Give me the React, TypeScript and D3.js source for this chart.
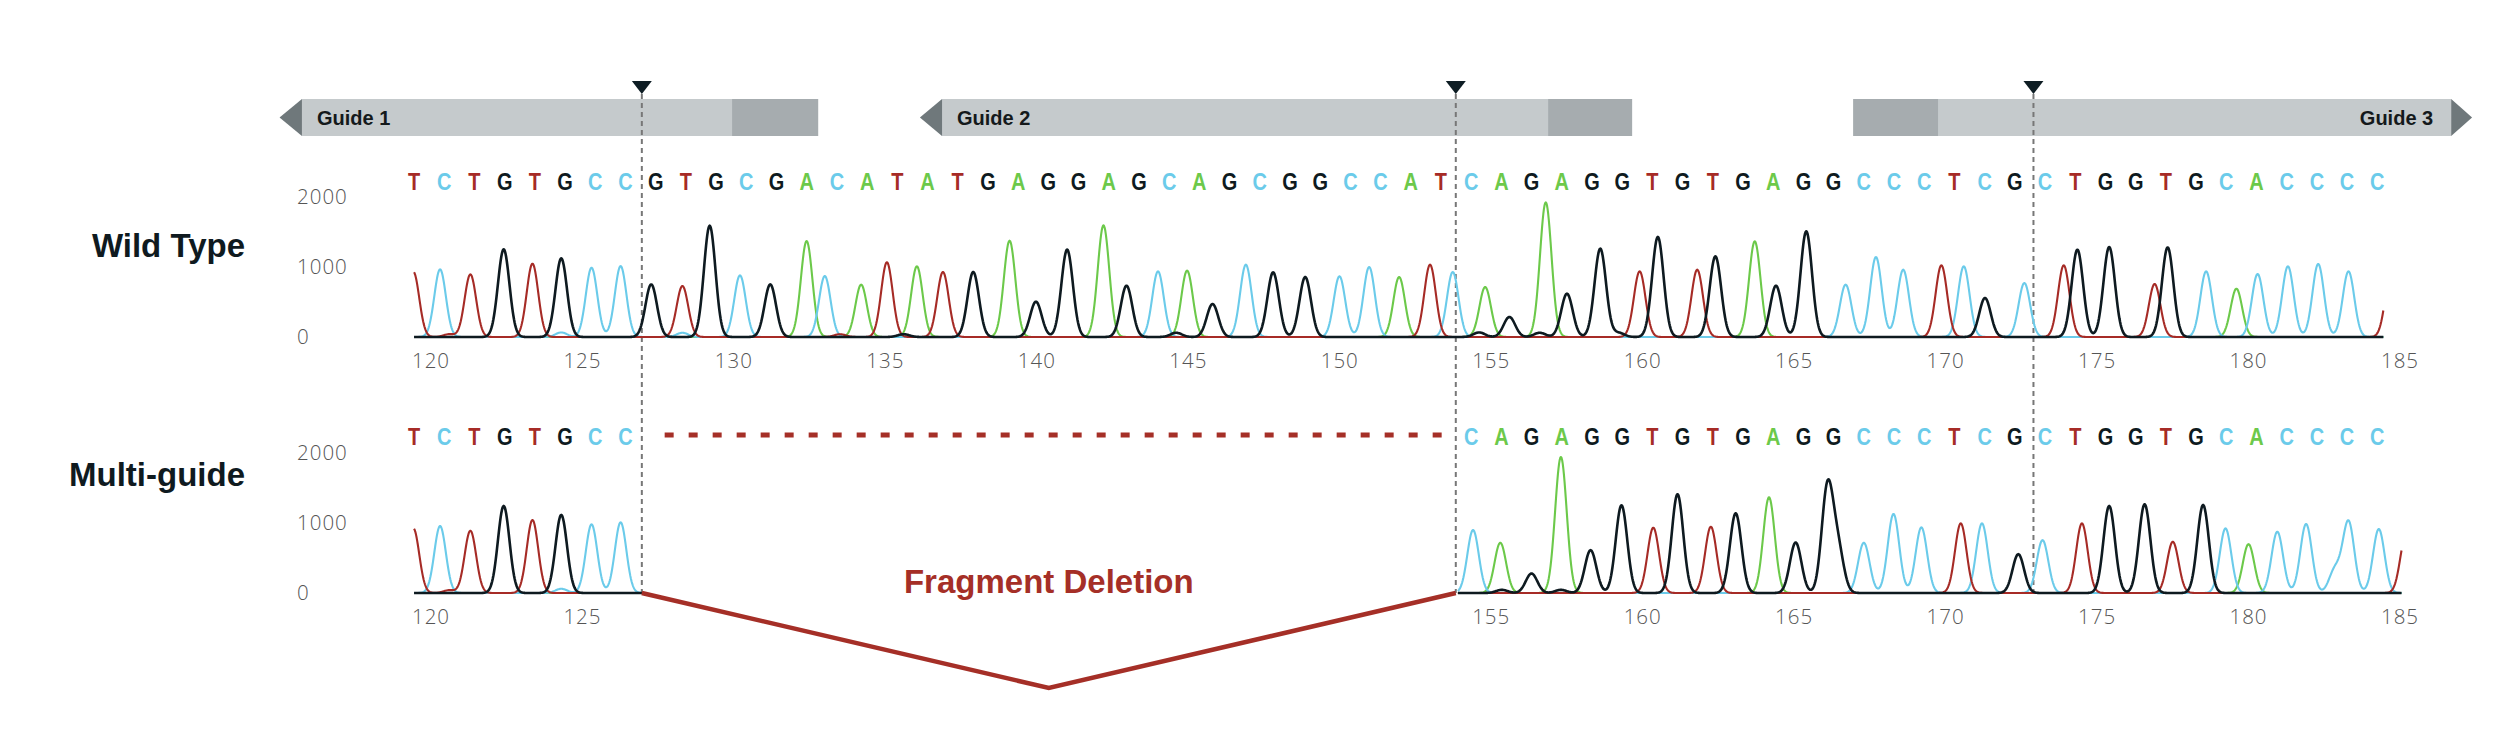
import React from 'react';
import * as d3 from 'd3';

const W = 2516;
const H = 752;

// Base calls (reference sequence read above the traces)
const sequence = 'TCTGTGCCGTGCGACATATGAGGAGCAGCGGCCATCAGAGGTGTGAGGCCCTCGCTGGTGCACCCC'.split('');
const seqRange = [119.44, 184.25];
const deletedFrom = 8; // first deleted base index (Multi-guide)
const deletedTo = 34; // last deleted base index

const wtTicks = [120, 125, 130, 135, 140, 145, 150, 155, 160, 165, 170, 175, 180, 185];
const mgTicks = [120, 125, 155, 160, 165, 170, 175, 180, 185];
const yTicks = [0, 1000, 2000];

const cutSites = [126.96, 153.83, 172.9];

const guideLabels = ['Guide 1', 'Guide 2', 'Guide 3'];
const guideTip = [115.0, 136.14, 187.38];
const guideStart = [115.74, 136.87, 166.95];
const guideEnd = [132.78, 159.65, 186.69];
const guidePamStart = [129.94, 156.88, 166.95];
const guidePamEnd = [132.78, 159.65, 169.75];
const guideDir = [-1, -1, 1];

// Wild type chromatogram peaks: [position, intensity]
const wtT = [[119.42, 930], [120.6, 40], [121.3, 895], [123.35, 1048], [128.3, 729], [133.5, 40], [135.05, 1067], [136.9, 929], [152.98, 1033], [159.9, 938], [161.8, 962], [169.86, 1024], [173.9, 1024], [176.9, 757], [184.7, 900]];
const wtC = [[120.3, 967], [124.3, 65], [125.3, 990], [126.26, 1014], [128.3, 60], [130.2, 881], [133.0, 871], [144.0, 938], [146.9, 1033], [149.99, 867], [150.97, 1000], [153.73, 929], [166.7, 748], [167.7, 1143], [168.6, 962], [170.6, 1010], [172.6, 771], [178.6, 938], [180.3, 900], [181.3, 1010], [182.3, 1043], [183.3, 938]];
const wtG = [[122.4, 1252], [124.3, 1124], [127.27, 752], [129.2, 1590], [131.2, 752], [135.6, 40], [137.9, 929], [139.97, 505], [141.0, 1248], [142.96, 733], [144.6, 60], [145.8, 471], [147.8, 924], [148.86, 857], [154.6, 65], [155.6, 286], [156.6, 60], [157.5, 619], [158.6, 1262], [159.2, 60], [160.5, 1429], [162.4, 1152], [164.4, 733], [165.4, 1510], [171.3, 557], [174.35, 1248], [175.4, 1286], [177.33, 1281]];
const wtA = [[132.4, 1371], [134.2, 748], [136.04, 1010], [139.1, 1376], [142.2, 1595], [144.96, 948], [151.96, 857], [154.8, 714], [156.8, 1924], [163.7, 1367], [179.6, 690]];

// Multi-guide chromatogram peaks
const mgT = [[119.42, 923], [120.6, 40], [121.3, 890], [123.35, 1043], [160.35, 933], [162.25, 947], [170.5, 995], [174.5, 995], [177.5, 732], [185.2, 830]];
const mgC = [[120.3, 957], [124.3, 60], [125.3, 981], [126.26, 1010], [154.4, 900], [167.3, 718], [168.28, 1129], [169.2, 938], [171.2, 995], [173.2, 756], [179.24, 923], [180.95, 876], [181.9, 986], [182.85, 330], [183.3, 1019], [184.3, 914]];
const mgG = [[122.4, 1244], [124.3, 1115], [155.35, 45], [156.33, 278], [157.3, 45], [158.28, 612], [159.3, 1254], [161.15, 1411], [163.07, 1139], [165.05, 722], [166.1, 1498], [166.45, 600], [172.4, 555], [175.4, 1244], [176.57, 1268], [178.5, 1258]];
const mgA = [[155.3, 718], [157.3, 1943], [164.17, 1368], [180.0, 698]];

const wtSegments = [[119.44, 184.45]];
const mgSegments = [[119.44, 126.96], [153.9, 185.05]];

const BASE_COLORS: Record<string, string> = {
  T: '#A62B26',
  C: '#6BCBEA',
  G: '#0E1A20',
  A: '#6CC94A',
};

const SIGMA = 0.19;

function intensityAt(peaks: number[][], u: number) {
  let s = 0;
  for (const [p, h] of peaks) {
    const d = (u - p) / SIGMA;
    if (Math.abs(d) < 6) s += h * Math.exp(-0.5 * d * d);
  }
  return s;
}

const axisFont = "'Open Sans', 'Noto Sans', sans-serif";
const boldFont = "'Liberation Sans', Arial, sans-serif";

export default function App() {
  const x = d3.scaleLinear().domain([120, 185]).range([431, 2400]);
  const seqX = d3
    .scalePoint<number>()
    .domain(sequence.map((_, i) => i))
    .range([x(seqRange[0]), x(seqRange[1])]);

  const panels = [
    {
      name: 'Wild Type',
      base: 337,
      labelY: 257,
      seqY: 189.5,
      peaks: { A: wtA, C: wtC, T: wtT, G: wtG } as Record<string, number[][]>,
      segments: wtSegments,
      ticks: wtTicks,
      showBase: (_i: number) => true,
    },
    {
      name: 'Multi-guide',
      base: 593,
      labelY: 486,
      seqY: 445,
      peaks: { A: mgA, C: mgC, T: mgT, G: mgG } as Record<string, number[][]>,
      segments: mgSegments,
      ticks: mgTicks,
      showBase: (i: number) => i < deletedFrom || i > deletedTo,
    },
  ];

  const drawOrder = ['A', 'C', 'T', 'G'];
  const barTop = 99;
  const barBot = 136;
  const barMid = (barTop + barBot) / 2;
  const mgBase = 593;
  const delStartX = x(cutSites[0]);
  const delEndX = x(cutSites[1]);
  const delMidX = (delStartX + delEndX) / 2;

  return (
    <svg
      width={W}
      height={H}
      viewBox={`0 0 ${W} ${H}`}
      style={{ position: 'absolute', left: 0, top: 0, background: '#ffffff' }}
    >
      {/* Guides */}
      {guideLabels.map((label, gi) => {
        const xs = x(guideStart[gi]);
        const xe = x(guideEnd[gi]);
        const xt = x(guideTip[gi]);
        const tipBase = guideDir[gi] < 0 ? xs : xe;
        return (
          <g key={label}>
            <rect x={xs} y={barTop} width={xe - xs} height={barBot - barTop} fill="#C5CACC" />
            <rect
              x={x(guidePamStart[gi])}
              y={barTop}
              width={x(guidePamEnd[gi]) - x(guidePamStart[gi])}
              height={barBot - barTop}
              fill="#A6ACAF"
            />
            <polygon points={`${tipBase},${barTop} ${xt},${barMid} ${tipBase},${barBot}`} fill="#6F787B" />
            <text
              x={guideDir[gi] < 0 ? xs + 15 : xe - 18}
              y={125}
              textAnchor={guideDir[gi] < 0 ? 'start' : 'end'}
              fontFamily={boldFont}
              fontWeight={700}
              fontSize={20}
              fill="#14191B"
            >
              {label}
            </text>
          </g>
        );
      })}

      {/* Cut sites */}
      {cutSites.map((c) => (
        <g key={c}>
          <line
            x1={x(c)}
            x2={x(c)}
            y1={94}
            y2={mgBase}
            stroke="#777"
            strokeWidth={2}
            strokeDasharray="5 4"
          />
          <polygon points={`${x(c) - 10},${81} ${x(c) + 10},${81} ${x(c)},${94}`} fill="#0E1D24" />
        </g>
      ))}

      {panels.map((panel) => {
        const y = d3.scaleLinear().domain([0, 2000]).range([panel.base, panel.base - 140]);
        const line = d3
          .line<[number, number]>()
          .x((d) => x(d[0]))
          .y((d) => y(d[1]));
        return (
          <g key={panel.name}>
            <text
              x={245}
              y={panel.labelY}
              textAnchor="end"
              fontFamily={boldFont}
              fontWeight={700}
              fontSize={33}
              fill="#0F1A1F"
            >
              {panel.name}
            </text>
            {yTicks.map((t) => (
              <text
                key={t}
                x={297}
                y={y(t) + 2}
                dominantBaseline="middle"
                fontFamily={axisFont}
                fontWeight={300}
                fontSize={20.5}
                letterSpacing={1}
                fill="#555"
              >
                {t}
              </text>
            ))}
            {panel.ticks.map((t) => (
              <text
                key={t}
                x={x(t)}
                y={panel.base + 26}
                textAnchor="middle"
                dominantBaseline="middle"
                fontFamily={axisFont}
                fontWeight={300}
                fontSize={20.5}
                letterSpacing={1}
                fill="#555"
              >
                {t}
              </text>
            ))}
            {sequence.map((b, i) =>
              panel.showBase(i) ? (
                <text
                  key={i}
                  transform={`translate(${seqX(i)},${panel.seqY}) scale(0.85,1)`}
                  textAnchor="middle"
                  fontFamily={boldFont}
                  fontWeight={700}
                  fontSize={23.5}
                  fill={BASE_COLORS[b]}
                >
                  {b}
                </text>
              ) : null
            )}
            {panel.segments.map((seg, si) =>
              drawOrder.map((base) => {
                const us = d3.range(seg[0], seg[1], 0.02).concat([seg[1]]);
                const pts: [number, number][] = us.map((u) => [u, intensityAt(panel.peaks[base], u)]);
                return (
                  <path
                    key={`${si}-${base}`}
                    d={line(pts) || ''}
                    fill="none"
                    stroke={BASE_COLORS[base]}
                    strokeWidth={base === 'G' ? 2.6 : 2.1}
                    strokeLinejoin="round"
                  />
                );
              })
            )}
          </g>
        );
      })}

      {/* Deleted region in Multi-guide */}
      <line
        x1={seqX(deletedFrom)! + 9}
        x2={seqX(deletedTo)! + 1}
        y1={435}
        y2={435}
        stroke="#A52F27"
        strokeWidth={5}
        strokeDasharray="9 15"
      />
      <polyline
        points={`${delStartX},${mgBase} ${delMidX},${mgBase + 95} ${delEndX},${mgBase}`}
        fill="none"
        stroke="#A52F27"
        strokeWidth={4.5}
      />
      <text
        x={delMidX}
        y={593}
        textAnchor="middle"
        fontFamily={boldFont}
        fontWeight={700}
        fontSize={33}
        fill="#A52F27"
      >
        Fragment Deletion
      </text>
    </svg>
  );
}
